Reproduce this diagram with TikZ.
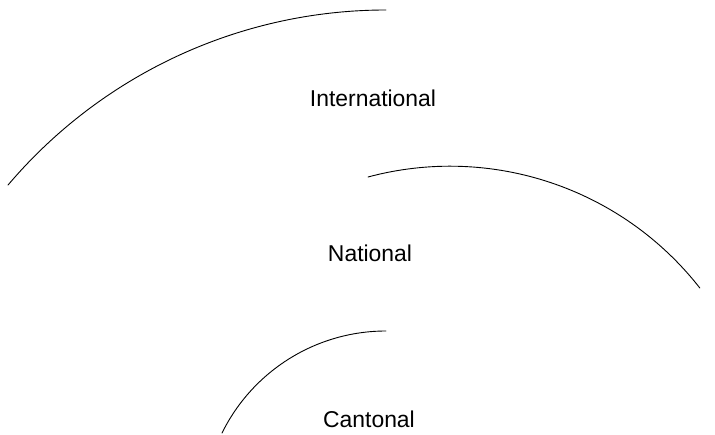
\documentclass[tikz,border=0pt]{standalone}
\usepackage{fontspec}
\setmainfont{Liberation Sans}
\usepackage{tikz}
\usetikzlibrary{positioning}

\begin{document}
\begin{tikzpicture}[
    x=1pt, y=1pt,
    lbl/.style={anchor=base, inner sep=0pt, font=\fontsize{22.9}{27}\selectfont},
    rim/.style={line width=0.9pt, line cap=round},
  ]
  \useasboundingbox (0,0) rectangle (715,-435);
  % arcs
  \draw[rim] (386,-10) arc[start angle=90, end angle=139.7, radius=495.7];
  \draw[rim] (368,-177) arc[start angle=105, end angle=38, radius=317];
  \draw[rim] (386,-331) arc[start angle=90, end angle=153.8, radius=182.8];
  % labels
  \node[lbl] (intl) at (373,-107) {International};
  \node[lbl] (natl) at (370,-262) {National};
  \node[lbl] (cant) at (369,-428) {Cantonal};
\end{tikzpicture}
\end{document}
